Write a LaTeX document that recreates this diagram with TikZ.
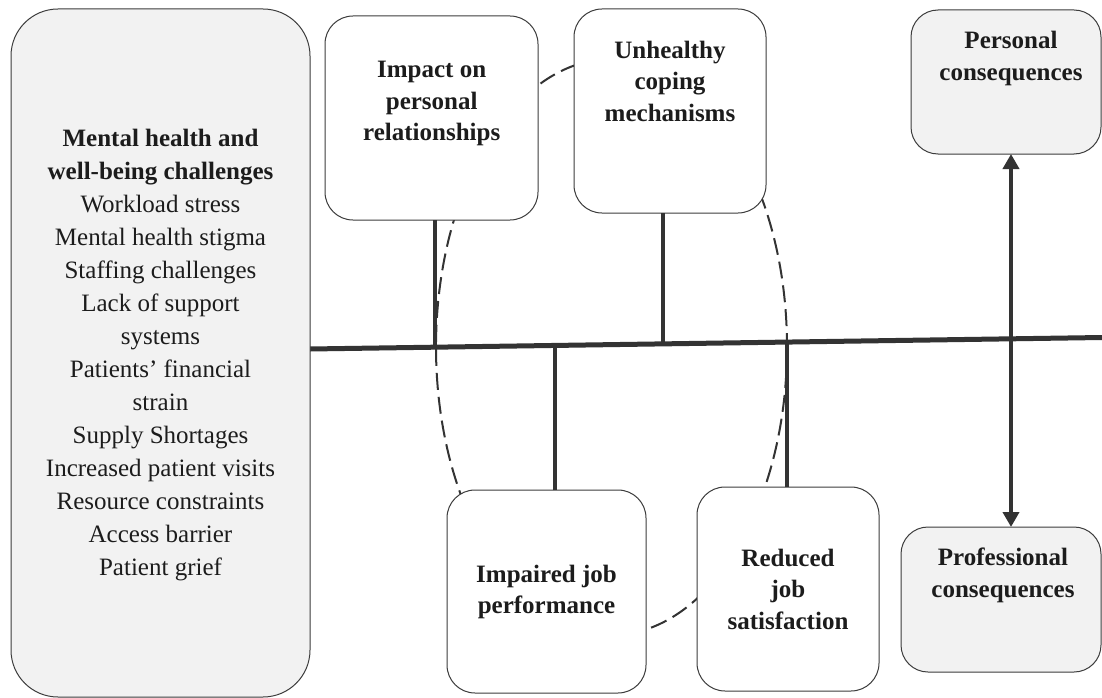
\documentclass[tikz,border=0pt]{standalone}
\usepackage{fontspec}
\setmainfont{Liberation Serif}
\usetikzlibrary{arrows.meta,calc}
\definecolor{ink}{HTML}{333333}
\definecolor{edge}{HTML}{3C3C3C}
\definecolor{boxgray}{HTML}{F2F2F2}
\definecolor{txt}{HTML}{1C1C1C}

\begin{document}
\begin{tikzpicture}[x=1pt,y=-1pt,
  card/.style={draw=edge, line width=1pt, rounded corners=28pt, inner sep=0pt, outer sep=0pt},
  whitecard/.style={card, fill=white},
  graycard/.style={card, fill=boxgray},
  heading/.style={font=\fontsize{25}{31.5}\selectfont\bfseries, align=center, text=txt, inner sep=0pt},
  listtext/.style={font=\fontsize{25}{33}\selectfont, align=center, text=txt, inner sep=0pt},
  spine/.style={draw=ink, line width=5pt},
  stem/.style={draw=ink, line width=4pt},
  loop/.style={draw=ink, line width=2pt, dash pattern=on 17pt off 7pt},
  link/.style={draw=ink, line width=4pt, {Triangle[length=15pt,width=16pt]}-{Triangle[length=15pt,width=16pt]}}
]
% canvas
\fill[white] (0,0) rectangle (1102,698);
\useasboundingbox (0,0) rectangle (1102,698);

% dashed ring linking the four effects (drawn first, boxes cover it)
\draw[loop] (611.5,347) ellipse [x radius=175.5, y radius=288];

% main spine
\coordinate (spineL) at (310,349);
\coordinate (spineR) at (1102,337.5);
\draw[spine] (spineL) -- (spineR);

% boxes
\node[graycard, rounded corners=47pt, minimum width=299pt, minimum height=688pt] (challenges) at (160.5,353) {};
\node[whitecard, minimum width=213pt, minimum height=204pt] (impact) at (431.5,118) {};
\node[whitecard, minimum width=192pt, minimum height=204pt] (coping) at (670,111) {};
\node[whitecard, minimum width=199pt, minimum height=203pt] (impaired) at (546.5,591.5) {};
\node[whitecard, minimum width=182pt, minimum height=204pt] (reduced) at (788,589) {};
\node[graycard, rounded corners=27pt, minimum width=190pt, minimum height=144pt] (personal) at (1006,82) {};
\node[graycard, rounded corners=27pt, minimum width=200pt, minimum height=145pt] (professional) at (1001,599.5) {};

% texts
\node[listtext] (challengesT) at (160.5,355) {\textbf{Mental health and}\\\textbf{well-being challenges}\\Workload stress\\Mental health stigma\\Staffing challenges\\Lack of support\\systems\\Patients’ financial\\strain\\Supply Shortages\\Increased patient visits\\Resource constraints\\Access barrier\\Patient grief};
\node[heading] (impactT) at (431.7,103.5) {Impact on\\personal\\relationships};
\node[heading] (copingT) at (670,81) {Unhealthy\\coping\\mechanisms};
\node[heading] (impairedT) at (546.5,592) {Impaired job\\performance};
\node[heading] (reducedT) at (788,589) {Reduced\\job\\satisfaction};
\node[heading] (personalT) at (1011,58.5) {Personal\\consequences};
\node[heading] (professionalT) at (1003,575.5) {Professional\\consequences};

% junctions on the spine
\coordinate (jImpact) at ($(spineL)!{(435-310)/792}!(spineR)$);
\coordinate (jCoping) at ($(spineL)!{(663-310)/792}!(spineR)$);
\coordinate (jImpaired) at ($(spineL)!{(555-310)/792}!(spineR)$);
\coordinate (jReduced) at ($(spineL)!{(787-310)/792}!(spineR)$);

% stems
\draw[stem] (impact.south -| jImpact) -- (jImpact);
\draw[stem] (coping.south -| jCoping) -- (jCoping);
\draw[stem] (impaired.north -| jImpaired) -- (jImpaired);
\draw[stem] (reduced.north -| jReduced) -- (jReduced);

% two-way link between consequences
\coordinate (axis) at (1011,0);
\draw[link] (personal.south -| axis) -- (professional.north -| axis);
\end{tikzpicture}
\end{document}
